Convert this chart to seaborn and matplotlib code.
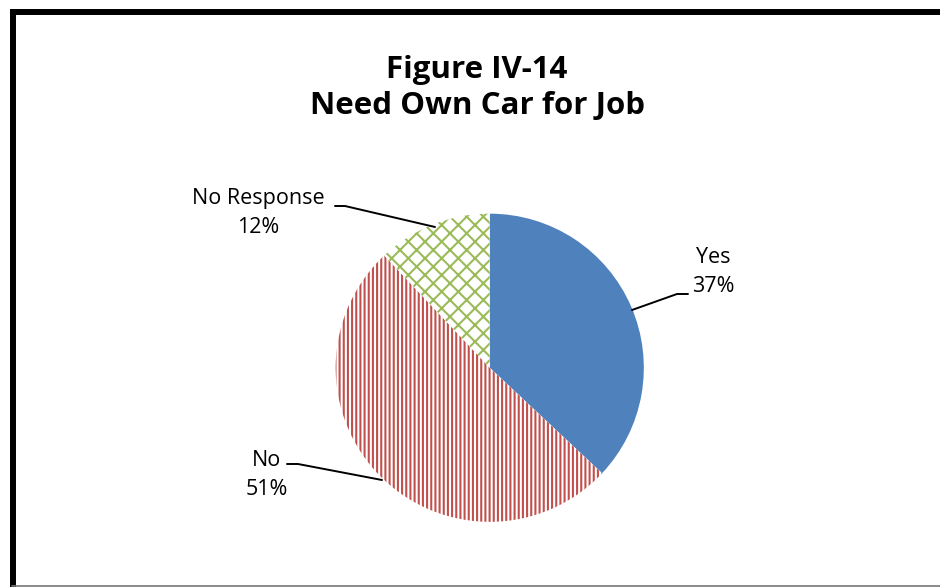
import matplotlib
matplotlib.use("Agg")
import matplotlib.pyplot as plt
import seaborn as sns
from matplotlib.lines import Line2D

labels = ["Yes", "No", "No Response"]
shares = [37, 51, 12]
fills = ["#4F81BD", "white", "white"]
hatch_colors = ["#4F81BD", "#C0504D", "#9BBB59"]
hatches = [None, "||||", "xx"]

sns.set_theme(style="white")
plt.rcParams['font.family'] = ['Open Sans', 'DejaVu Sans']
plt.rcParams['hatch.linewidth'] = 1.5
plt.rcParams['text.color'] = 'black'

fig = plt.figure(figsize=(9.4, 5.87), dpi=100)
fig.patch.set_facecolor("white")

ax = fig.add_axes([0.357, 0.111, 0.328, 0.525])
wedges, _ = ax.pie(shares, startangle=90, counterclock=False, radius=1,
                   colors=fills, wedgeprops=dict(linewidth=0))
for w, hc, h in zip(wedges, hatch_colors, hatches):
    w.set_edgecolor(hc)
    if h:
        w.set_hatch(h)
ax.set_xlim(-1, 1)
ax.set_ylim(-1, 1)
ax.set_aspect("equal")
ax.axis("off")

# labels with leader lines (figure pixel coords -> fraction)
W, H = 940, 587
def fx(x): return x / W
def fy(y): return 1 - y / H

lab_pos = {"Yes": (713, 272), "No": (267, 475), "No Response": (258, 213)}
leaders = {"Yes": [(632, 310), (677, 294), (688, 294)],
           "No": [(382, 480), (298, 464), (287, 464)],
           "No Response": [(435, 227), (345, 206), (335, 206)]}
for lab, sh in zip(labels, shares):
    x, y = lab_pos[lab]
    fig.text(fx(x), fy(y), f"{lab}\n{sh}%", ha="center", va="center",
             fontsize=15.5, linespacing=1.45, color="black")
    pts = leaders[lab]
    fig.add_artist(Line2D([fx(p[0]) for p in pts], [fy(p[1]) for p in pts],
                          color="black", lw=1.4))

fig.text(fx(477), fy(88), "Figure IV-14\nNeed Own Car for Job", ha="center",
         va="center", fontsize=22.5, fontweight="bold", linespacing=1.25,
         color="black")

# chart frame
fig.add_artist(Line2D([fx(12.5), fx(12.5)], [fy(585), fy(12)], color="black", lw=4.3,
                      solid_capstyle="projecting"))
fig.add_artist(Line2D([fx(12.5), fx(945)], [fy(12), fy(12)], color="black", lw=4.3,
                      solid_capstyle="projecting"))
fig.add_artist(Line2D([fx(12), fx(940)], [fy(586), fy(586)], color="#777777", lw=1.2))

fig.savefig("out.png", dpi=100, facecolor="white")
